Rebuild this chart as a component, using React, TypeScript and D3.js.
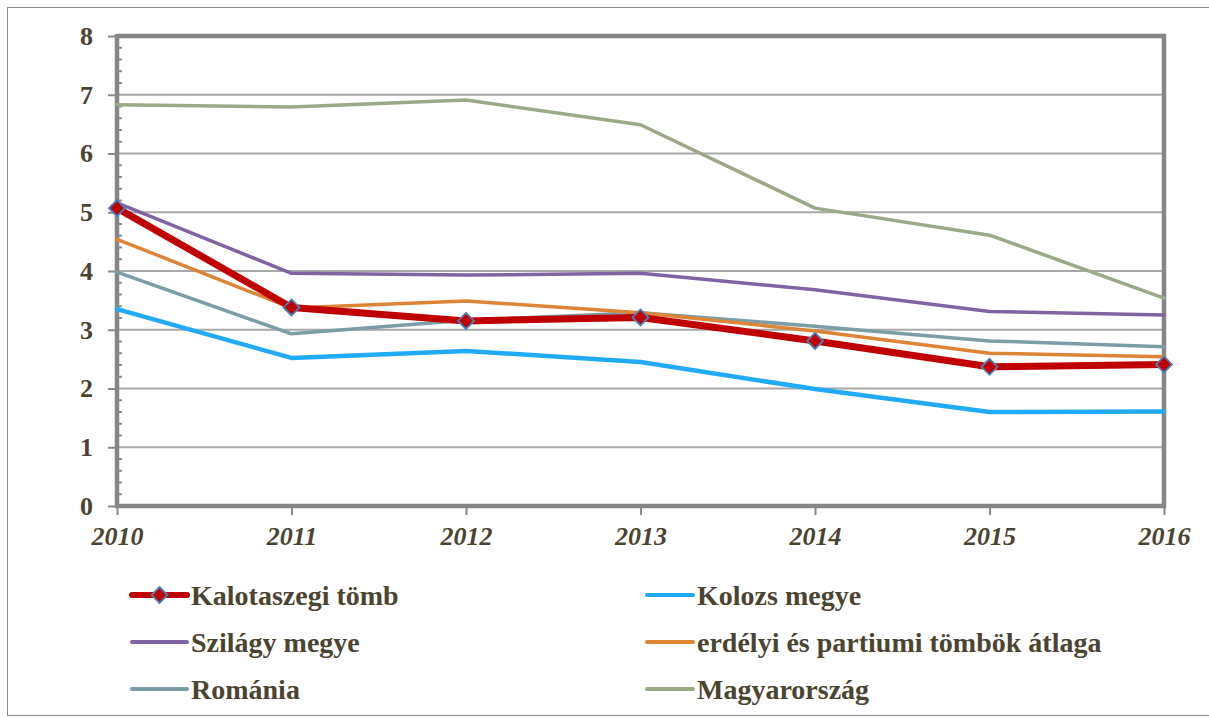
import * as d3 from "d3";
import React, { useEffect, useRef } from "react";

const years = ["2010", "2011", "2012", "2013", "2014", "2015", "2016"];
const kalotaszegi = [5.07, 3.38, 3.15, 3.21, 2.81, 2.37, 2.41];
const kolozs = [3.35, 2.52, 2.64, 2.45, 1.99, 1.6, 1.61];
const szilagy = [5.16, 3.96, 3.93, 3.96, 3.68, 3.31, 3.25];
const erdelyi = [4.54, 3.37, 3.49, 3.29, 2.98, 2.6, 2.54];
const romania = [3.98, 2.93, 3.16, 3.29, 3.06, 2.81, 2.71];
const magyar = [6.83, 6.79, 6.91, 6.49, 5.07, 4.61, 3.54];
const yTicks = [0, 1, 2, 3, 4, 5, 6, 7, 8];

const series = [
  { name: "Kalotaszegi tömb", values: kalotaszegi, color: "#c00000", width: 7, marker: true },
  { name: "Kolozs megye", values: kolozs, color: "#21aaf7", width: 4.5, marker: false },
  { name: "Szilágy megye", values: szilagy, color: "#8064a2", width: 3.5, marker: false },
  { name: "erdélyi és partiumi tömbök átlaga", values: erdelyi, color: "#dd8436", width: 3.5, marker: false },
  { name: "Románia", values: romania, color: "#7b9ea6", width: 3.5, marker: false },
  { name: "Magyarország", values: magyar, color: "#9aa987", width: 3.5, marker: false },
];

// draw order: thin lines first, thick red one on top
const drawOrder = [5, 2, 4, 3, 1, 0];

export default function App() {
  const ref = useRef<SVGSVGElement | null>(null);
  const width = 1209;
  const height = 718;
  const left = 117;
  const right = 1164;
  const top = 36;
  const bottom = 506;
  const textColor = "#4b4430";
  const font = '"Liberation Serif", "Times New Roman", serif';

  useEffect(() => {
    const svg = d3.select(ref.current);
    svg.selectAll("*").remove();

    const x = d3.scalePoint().domain(years).range([left, right]);
    const y = d3.scaleLinear().domain([0, 8]).range([bottom, top]);

    svg
      .append("rect")
      .attr("x", 7.5)
      .attr("y", 7.5)
      .attr("width", width)
      .attr("height", 708)
      .attr("fill", "white")
      .attr("stroke", "#8c8c8c")
      .attr("stroke-width", 1);

    // gridlines
    svg
      .append("g")
      .selectAll("line")
      .data(yTicks.slice(1, -1))
      .join("line")
      .attr("x1", left)
      .attr("x2", right)
      .attr("y1", (d) => y(d))
      .attr("y2", (d) => y(d))
      .attr("stroke", "#a9a9a9")
      .attr("stroke-width", 2.2);

    // y axis with minor ticks
    const yAxis = svg.append("g").attr("transform", `translate(${left},0)`);
    yAxis
      .call(d3.axisLeft(y).tickValues(yTicks).tickSize(9).tickPadding(15).tickFormat(d3.format("d")))
      .call((g) => g.select(".domain").remove());
    yAxis.attr("font-family", null).attr("font-size", null);
    yAxis.selectAll(".tick line").attr("stroke", "#8a8a8a").attr("stroke-width", 2);
    yAxis
      .selectAll(".tick text")
      .style("fill", textColor)
      .style("font-family", font)
      .style("font-weight", "bold")
      .style("font-size", "26px");

    const minor = d3.range(0, 8.001, 0.2).filter((v) => Math.abs(v - Math.round(v)) > 0.01);
    svg
      .append("g")
      .selectAll("line")
      .data(minor)
      .join("line")
      .attr("x1", left)
      .attr("x2", left + 5)
      .attr("y1", (d) => y(d))
      .attr("y2", (d) => y(d))
      .attr("stroke", "#8a8a8a")
      .attr("stroke-width", 2);

    // x axis
    const xAxis = svg.append("g").attr("transform", `translate(0,${bottom})`);
    xAxis
      .call(d3.axisBottom(x).tickSize(9).tickPadding(12))
      .call((g) => g.select(".domain").remove());
    xAxis.attr("font-family", null).attr("font-size", null);
    xAxis.selectAll(".tick line").attr("stroke", "#8a8a8a").attr("stroke-width", 2);
    xAxis
      .selectAll(".tick text")
      .style("fill", textColor)
      .style("font-family", font)
      .style("font-weight", "bold")
      .style("font-style", "italic")
      .style("font-size", "26px");

    // frame lines
    const frame = svg.append("g").attr("stroke", "#868686").attr("stroke-width", 4.5).attr("fill", "none");
    frame.append("line").attr("x1", left).attr("x2", right + 2).attr("y1", top).attr("y2", top);
    frame.append("line").attr("x1", left).attr("x2", left).attr("y1", top - 2).attr("y2", bottom + 2);
    frame.append("line").attr("x1", right).attr("x2", right).attr("y1", top - 2).attr("y2", bottom + 2);
    frame.append("line").attr("x1", left - 2).attr("x2", right + 2).attr("y1", bottom).attr("y2", bottom);

    const line = d3
      .line<number>()
      .x((_, i) => x(years[i]) as number)
      .y((d) => y(d));

    drawOrder.forEach((si) => {
      const s = series[si];
      svg
        .append("path")
        .datum(s.values)
        .attr("d", line)
        .attr("fill", "none")
        .attr("stroke", s.color)
        .attr("stroke-width", s.width)
        .attr("stroke-linejoin", "round")
        .attr("stroke-linecap", "round");
      if (s.marker) {
        svg
          .append("g")
          .selectAll("path")
          .data(s.values)
          .join("path")
          .attr("d", "M0,-8L8,0L0,8L-8,0Z")
          .attr("transform", (d, i) => `translate(${x(years[i])},${y(d)})`)
          .attr("fill", s.color)
          .attr("stroke", "#4a7ebb")
          .attr("stroke-width", 1.8);
      }
    });

    // legend: [line start, line end, text x] per column, row centres
    const cols = [
      [132, 187, 191],
      [647, 693, 697],
    ];
    const rows = [595, 642, 689];
    series.forEach((s, i) => {
      const c = cols[i % 2];
      const ly = rows[Math.floor(i / 2)];
      const g = svg.append("g").attr("transform", `translate(0,${ly})`);
      g.append("line")
        .attr("x1", c[0])
        .attr("x2", c[1])
        .attr("y1", 0)
        .attr("y2", 0)
        .attr("stroke", s.color)
        .attr("stroke-width", s.marker ? 6 : 4)
        .attr("stroke-linecap", "round");
      if (s.marker) {
        g.append("path")
          .attr("d", "M0,-8L8,0L0,8L-8,0Z")
          .attr("transform", `translate(${(c[0] + c[1]) / 2},0)`)
          .attr("fill", s.color)
          .attr("stroke", "#4a7ebb")
          .attr("stroke-width", 1.8);
      }
      g.append("text")
        .attr("x", c[2])
        .attr("y", 0)
        .attr("dy", "0.35em")
        .style("fill", textColor)
        .style("font-family", font)
        .style("font-weight", "bold")
        .style("font-size", "28px")
        .text(s.name);
    });
  }, []);

  return (
    <svg
      ref={ref}
      width={width}
      height={height}
      style={{ position: "absolute", left: 0, top: 0, display: "block", background: "white" }}
    />
  );
}
